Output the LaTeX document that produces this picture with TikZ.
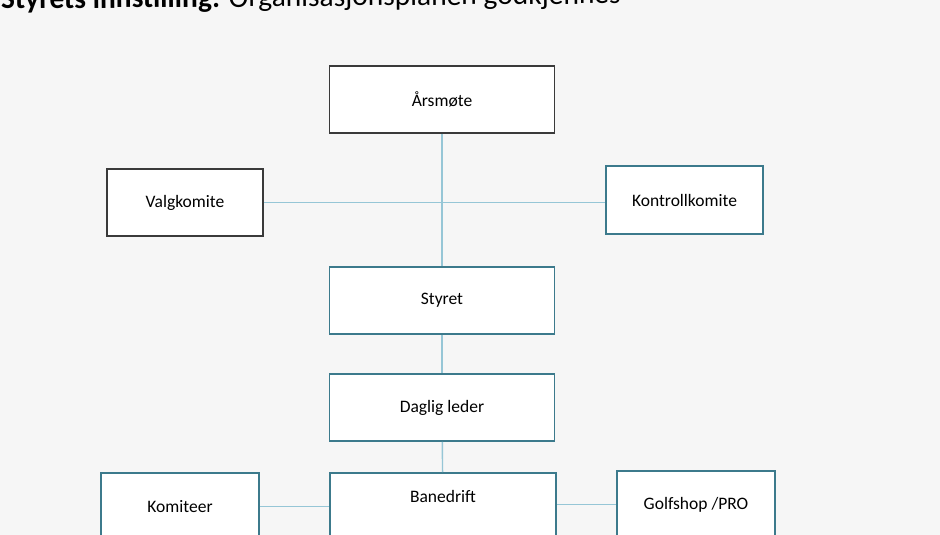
\documentclass[tikz,border=0pt]{standalone}
\usepackage{fontspec}
\setmainfont{Carlito}
\usepackage{xcolor}
\usepackage{tikz}
\definecolor{paper}{HTML}{F6F6F6}
\definecolor{frame}{HTML}{3A3A3A}
\definecolor{tealframe}{HTML}{3C7A8C}
\definecolor{linkblue}{HTML}{96C6D6}
\tikzstyle{block} = [draw=tealframe, line width=1.8pt, fill=white, rectangle,
inner sep=0pt, minimum height=67pt, minimum width=225pt, font=\fontsize{17.5}{20}\selectfont]
\tikzstyle{small} = [block, minimum width=157pt]
\tikzstyle{dark} = [draw=frame]
\tikzstyle{link} = [draw=linkblue, line width=1.4pt]

\begin{document}
\begin{tikzpicture}[x=1pt, y=1pt]
	% page and title, cut at the top edge
	\useasboundingbox (0,0) rectangle (940,-535);
	\clip (0,0) rectangle (940,-535);
	\fill [paper] (0,0) rectangle (940,-535);
	\node [anchor=base west, inner sep=0pt, rotate=0.5, font=\fontsize{29.5}{32}\selectfont]
	(title) at (1,-9) {\textbf{Styrets innstilling:} Organisasjonsplanen godkjennes};
	% We start by placing the blocks
	\node [block, dark] (arsmote) at (442,-99.5) {Årsmøte};
	\node [block, below of=arsmote, node distance=201pt] (styret) {Styret};
	\node [block, below of=styret, node distance=107pt] (daglig) {Daglig leder};
	\node [small, dark, minimum width=156pt] (valg) at (185,-202.5) {Valgkomite};
	\node [small, minimum height=68pt] (kontroll) at (684.5,-200) {Kontrollkomite};
	\node [block, anchor=north, minimum width=226pt, text height=30pt, text depth=70pt]
	(banedrift) at (443,-472) {Banedrift};
	\node [small, minimum width=158pt] (komiteer) at (180,-506.5) {Komiteer};
	\node [small, minimum width=158pt] (golfshop) at (696,-504.5) {Golfshop /PRO};
	
	% Once the nodes are placed, connecting them is easy.
	\draw [link] (arsmote) -- (styret);
	\draw [link] (valg.east) -- (valg.east -| kontroll.west);
	\draw [link] (styret) -- (daglig);
	\draw [link] (daglig) -- (banedrift);
	\draw [link] (komiteer.east) -- (komiteer.east -| banedrift.west);
	\draw [link] (golfshop.west) -- (golfshop.west -| banedrift.east);
\end{tikzpicture}
\end{document}
